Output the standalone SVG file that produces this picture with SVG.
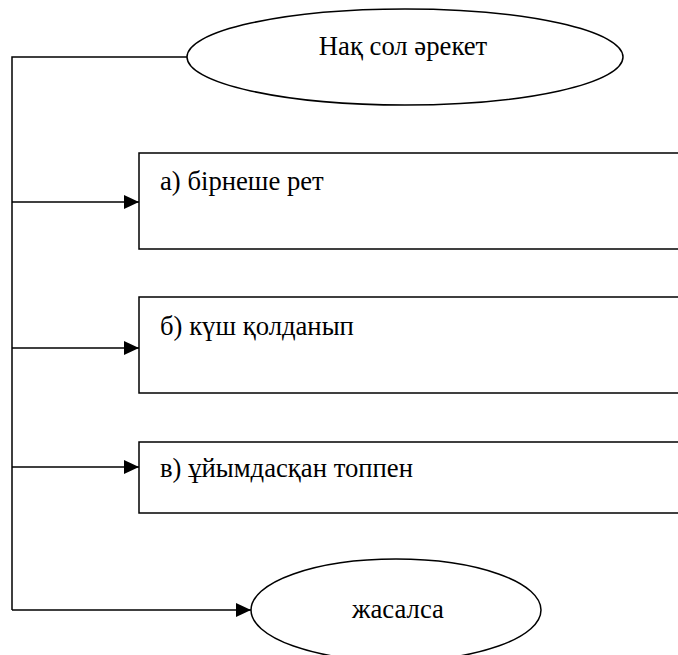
<svg xmlns="http://www.w3.org/2000/svg" width="678" height="655" viewBox="0 0 678 655">
<style>
.s{fill:#fff;stroke:#000;stroke-width:1.5}
.c{fill:none;stroke:#000;stroke-width:1.5}
text{font-family:"Liberation Serif","Times New Roman",serif;font-size:26.7px;fill:#000}
</style>
<defs>
<marker id="a" markerWidth="15" markerHeight="14" refX="15" refY="7" orient="auto" markerUnits="userSpaceOnUse">
<path d="M0,0 L15,7 L0,14 Z" fill="#000"/>
</marker>
</defs>
<rect width="678" height="655" fill="#fff"/>
<g id="connectors">
<polyline class="c" points="187,57 12,57 12,610"/>
<line class="c" x1="12" y1="202" x2="139" y2="202" marker-end="url(#a)"/>
<line class="c" x1="12" y1="348" x2="139" y2="348" marker-end="url(#a)"/>
<line class="c" x1="12" y1="467" x2="139" y2="467" marker-end="url(#a)"/>
<line class="c" x1="12" y1="610" x2="251" y2="610" marker-end="url(#a)"/>
</g>
<g id="n0">
<ellipse class="s" cx="405" cy="57" rx="218" ry="48"/>
<text x="403" y="55" text-anchor="middle">Нақ сол әрекет</text>
</g>
<g id="n1">
<rect class="s" x="139" y="153" width="545" height="96"/>
<text x="160" y="190">а) бірнеше рет</text>
</g>
<g id="n2">
<rect class="s" x="139" y="297" width="545" height="96"/>
<text x="160" y="335">б) күш қолданып</text>
</g>
<g id="n3">
<rect class="s" x="139" y="442" width="545" height="71"/>
<text x="160" y="477">в) ұйымдасқан топпен</text>
</g>
<g id="n4">
<ellipse class="s" cx="396" cy="610" rx="145" ry="51"/>
<text x="398" y="618" text-anchor="middle">жасалса</text>
</g>
</svg>
